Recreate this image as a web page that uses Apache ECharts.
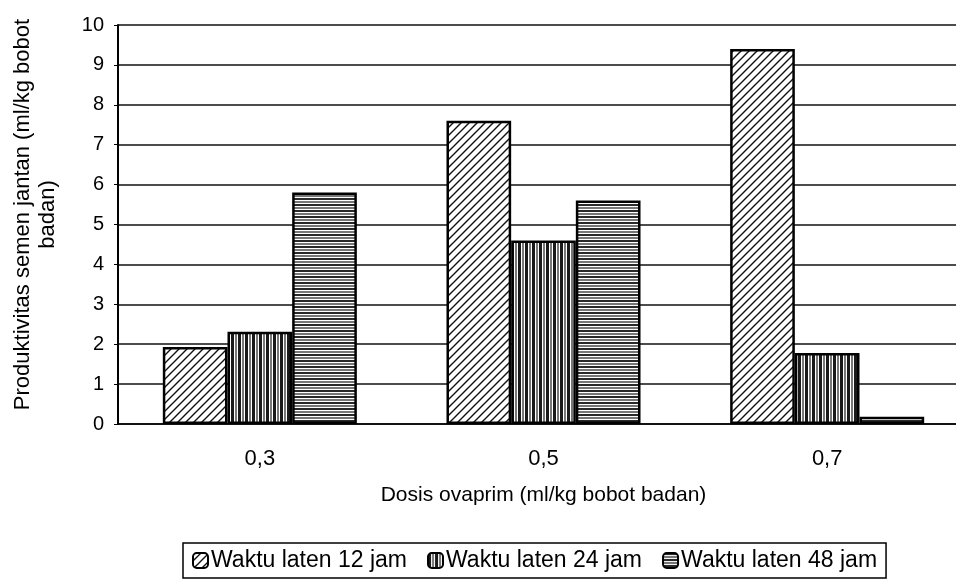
<!DOCTYPE html>
<html>
<head>
<meta charset="utf-8">
<script src="https://cdn.jsdelivr.net/npm/echarts@6/dist/echarts.min.js"></script>
<style>
  html, body { margin: 0; padding: 0; background: #fff; overflow: hidden; }
  #wrap { width: 956px; height: 586px; overflow: hidden; }
  #chart { width: 972px; height: 586px; }
</style>
</head>
<body>
<div id="wrap"><div id="chart"></div></div>
<script>
const categories = ['0,3', '0,5', '0,7'];
const seriesNames = ['Waktu laten 12 jam', 'Waktu laten 24 jam', 'Waktu laten 48 jam'];
const jam12 = [1.93, 7.6, 9.4];
const jam24 = [2.31, 4.6, 1.78];
const jam48 = [5.8, 5.6, 0.18];
const yTicks = [0, 1, 2, 3, 4, 5, 6, 7, 8, 9, 10];

// pola arsiran buat tiap seri
const makePattern = (kind) => {
  const c = document.createElement('canvas');
  const ctx = c.getContext('2d');
  if (kind === 'diag') {
    c.width = 8; c.height = 8;
    ctx.fillStyle = '#fff';
    ctx.fillRect(0, 0, 8, 8);
    ctx.strokeStyle = '#111';
    ctx.lineWidth = 1.4;
    ctx.beginPath();
    ctx.moveTo(-1, 9); ctx.lineTo(9, -1);
    ctx.moveTo(-1, 1); ctx.lineTo(1, -1);
    ctx.moveTo(7, 9); ctx.lineTo(9, 7);
    ctx.stroke();
  } else if (kind === 'vert') {
    c.width = 7; c.height = 7;
    ctx.fillStyle = '#fff';
    ctx.fillRect(0, 0, 7, 7);
    ctx.fillStyle = '#1a1a1a';
    ctx.fillRect(0, 0, 3, 7);
    ctx.fillStyle = '#777';
    ctx.fillRect(4, 0, 2, 7);
  } else {
    c.width = 6; c.height = 6;
    ctx.fillStyle = '#fff';
    ctx.fillRect(0, 0, 6, 6);
    ctx.fillStyle = '#2a2a2a';
    ctx.fillRect(0, 0, 6, 2);
    ctx.fillStyle = '#777';
    ctx.fillRect(0, 3, 6, 2);
  }
  return { image: c, repeat: 'repeat' };
};

const chart = echarts.init(document.getElementById('chart'));
const font = 'Liberation Sans, Arial, sans-serif';
const barStyle = (kind) => ({
  color: makePattern(kind),
  borderColor: '#000',
  borderWidth: 2.5
});

chart.setOption({
  animation: false,
  textStyle: { fontFamily: font, color: '#000' },
  // plot area sengaja lewat tepi kanan gambar, seperti hasil scan aslinya
  grid: { left: 118, width: 851, top: 25, bottom: 162 },
  legend: {
    bottom: 8,
    left: 183,
    itemWidth: 15,
    itemHeight: 15,
    itemGap: 20,
    padding: [6, 9, 6, 9],
    borderColor: '#000',
    borderWidth: 1.5,
    borderRadius: 0,
    textStyle: { fontSize: 23, color: '#000', fontFamily: font, padding: [0, 0, 0, -2] },
    data: seriesNames
  },
  xAxis: {
    type: 'category',
    data: categories,
    name: 'Dosis ovaprim (ml/kg bobot badan)',
    nameLocation: 'middle',
    nameGap: 61,
    nameTextStyle: { fontSize: 21, color: '#000', padding: [0, 0, 0, 0] },
    axisLine: { lineStyle: { color: '#000', width: 1.5 } },
    axisTick: { show: false },
    axisLabel: { fontSize: 22, color: '#000', margin: 24 }
  },
  yAxis: {
    type: 'value',
    min: 0,
    max: 10,
    interval: 1,
    name: 'Produktivitas semen jantan (ml/kg bobot\nbadan)',
    nameLocation: 'middle',
    nameGap: 58,
    nameTextStyle: { fontSize: 22, color: '#000', lineHeight: 25, padding: [0, 0, 0, 20] },
    axisLine: { show: true, lineStyle: { color: '#000', width: 2 } },
    axisTick: { show: true, inside: false, length: 4, lineStyle: { color: '#000' } },
    axisLabel: {
      fontSize: 20, color: '#000', margin: 14,
      formatter: (v) => (yTicks.includes(v) ? String(v) : '')
    },
    splitLine: { lineStyle: { color: '#111', width: 1.5 } }
  },
  series: [
    { name: seriesNames[0], type: 'bar', data: jam12, barGap: '0%', barCategoryGap: '31.6%', itemStyle: barStyle('diag') },
    { name: seriesNames[1], type: 'bar', data: jam24, itemStyle: barStyle('vert') },
    { name: seriesNames[2], type: 'bar', data: jam48, itemStyle: barStyle('horiz') }
  ]
});
</script>
</body>
</html>
